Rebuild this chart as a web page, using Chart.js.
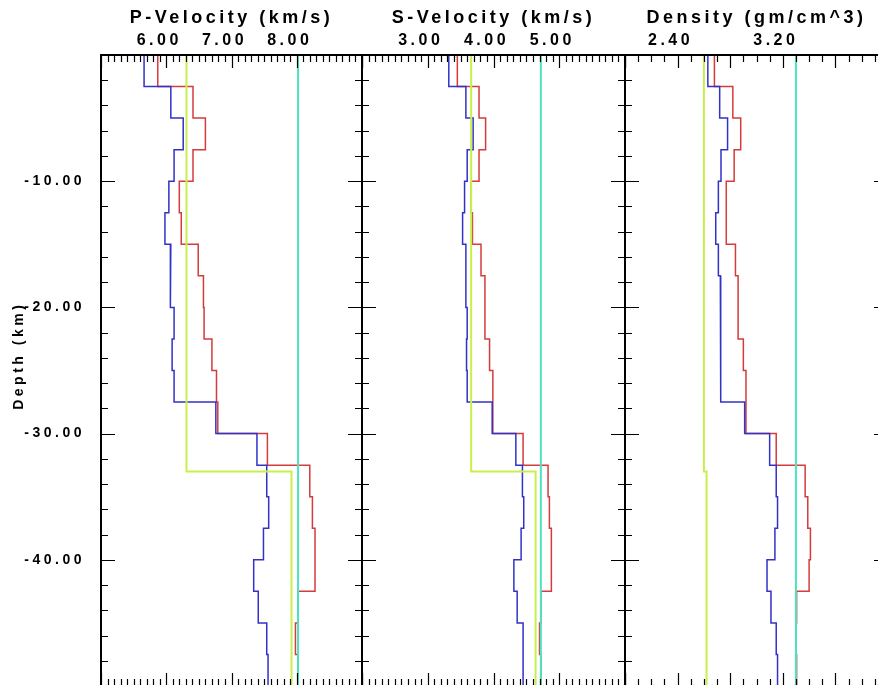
<!DOCTYPE html>
<html>
<head>
<meta charset="utf-8">
<script src="https://cdn.jsdelivr.net/npm/chart.js@4"></script>
<style>
  html, body { margin: 0; padding: 0; background: #fff; overflow: hidden; }
  #wrap { position: relative; width: 878px; height: 685px; overflow: hidden; }
  #wrap canvas { position: absolute; left: 0; top: 0; }
</style>
</head>
<body>
<div id="wrap">
  <canvas id="cP" width="900" height="690"></canvas>
  <canvas id="cS" width="900" height="690"></canvas>
  <canvas id="cD" width="900" height="690"></canvas>
</div>
<script>
// layer boundaries (km), 20 layers of 2.5 km
const layerDepths = [0, -2.5, -5, -7.5, -10, -12.5, -15, -17.5, -20, -22.5, -25,
  -27.5, -30, -32.5, -35, -37.5, -40, -42.5, -45, -47.5, -50];
const refDepths = [0, -33, -50];
const lineDepths = [0, -50];

// P velocity (km/s)
const pBlue = [5.66, 6.07, 6.26, 6.12, 6.04, 5.98, 6.07, 6.06, 6.12, 6.09,
  6.12, 6.76, 7.39, 7.54, 7.57, 7.49, 7.34, 7.41, 7.54, 7.56];
const pRed = [5.87, 6.41, 6.60, 6.41, 6.20, 6.23, 6.49, 6.57, 6.58, 6.70,
  6.77, 6.79, 7.55, 8.20, 8.24, 8.28, 8.28, 8.02, 7.98, 8.02];
const pRef = [6.31, 7.92];
const pLine = [8.02];

// S velocity (km/s)
const sBlue = [3.32, 3.58, 3.69, 3.60, 3.56, 3.53, 3.58, 3.58, 3.60, 3.59,
  3.60, 3.98, 4.34, 4.44, 4.46, 4.42, 4.31, 4.36, 4.45, 4.45];
const sRed = [3.45, 3.78, 3.88, 3.78, 3.66, 3.68, 3.81, 3.87, 3.87, 3.94,
  3.99, 3.99, 4.45, 4.83, 4.85, 4.88, 4.88, 4.72, 4.70, 4.72];
const sRef = [3.66, 4.64];
const sLine = [4.72];

// density (gm/cm^3)
const dBlue = [2.63, 2.72, 2.78, 2.73, 2.71, 2.69, 2.71, 2.725, 2.73, 2.725,
  2.73, 2.91, 3.10, 3.15, 3.16, 3.14, 3.08, 3.11, 3.15, 3.16];
const dRed = [2.68, 2.82, 2.88, 2.83, 2.77, 2.77, 2.84, 2.86, 2.86, 2.90,
  2.92, 2.92, 3.15, 3.37, 3.39, 3.41, 3.40, 3.305, 3.30, 3.305];
const dRef = [2.60, 2.62];
const dLine = [3.30];

// tick labels
const pTickValues = [6, 7, 8];
const pTickLabels = ['6.00', '7.00', '8.00'];
const sTickValues = [3, 4, 5];
const sTickLabels = ['3.00', '4.00', '5.00'];
const dTickValues = [2.4, 3.2];
const dTickLabels = ['2.40', '3.20'];
const yTickValues = [-10, -20, -30, -40];
const yTickLabels = ['-10.00', '-20.00', '-30.00', '-40.00'];

const FONT = '"Liberation Sans", Arial, Helvetica, sans-serif';

function stepPoints(values, depths) {
  const pts = [];
  values.forEach((v, i) => {
    pts.push({x: v, y: depths[i]});
    pts.push({x: v, y: depths[i + 1]});
  });
  return pts;
}

function pickLabel(values, labels) {
  return v => {
    const i = values.findIndex(t => Math.abs(t - v) < 1e-6);
    return i >= 0 ? labels[i] : '';
  };
}

function isMajor(v, step) {
  const r = v / step;
  return Math.abs(r - Math.round(r)) < 1e-6;
}

// frame + inward tick marks on all four sides
const framePlugin = {
  id: 'frame',
  beforeDraw(chart) {
    chart.ctx.letterSpacing = '3.5px';
  },
  afterDatasetsDraw(chart, args, opts) {
    const {ctx, chartArea: a} = chart;
    const x = chart.scales.x, y = chart.scales.y;
    ctx.save();
    ctx.strokeStyle = '#000';
    ctx.lineWidth = 1.2;
    ctx.beginPath();
    x.ticks.forEach(t => {
      const px = Math.round(x.getPixelForValue(t.value)) + 0.5;
      const len = isMajor(t.value, opts.xMajor) ? 13 : 7;
      ctx.moveTo(px, a.top); ctx.lineTo(px, a.top + len);
      ctx.moveTo(px, a.bottom); ctx.lineTo(px, a.bottom - len);
    });
    y.ticks.forEach(t => {
      const py = Math.round(y.getPixelForValue(t.value)) + 0.5;
      const len = isMajor(t.value, 10) ? 14 : 7;
      ctx.moveTo(a.left, py); ctx.lineTo(a.left + len, py);
      ctx.moveTo(a.right, py); ctx.lineTo(a.right - len, py);
    });
    ctx.stroke();
    ctx.lineWidth = 2;
    ctx.strokeRect(a.left, a.top, a.right - a.left, a.bottom - a.top);
    ctx.restore();
  }
};

function makePanel(id, cfg) {
  new Chart(document.getElementById(id), {
    type: 'line',
    data: {
      datasets: [
        {data: stepPoints(cfg.line, lineDepths), borderColor: '#4ee3c0', borderWidth: 2},
        {data: stepPoints(cfg.ref, refDepths), borderColor: '#c8f04c', borderWidth: 2},
        {data: stepPoints(cfg.blue, layerDepths), borderColor: '#3232c8', borderWidth: 1.5},
        {data: stepPoints(cfg.red, layerDepths), borderColor: '#d43c3c', borderWidth: 1.5}
      ]
    },
    options: {
      responsive: false,
      animation: false,
      layout: {padding: cfg.padding},
      elements: {point: {radius: 0}, line: {tension: 0}},
      plugins: {legend: {display: false}, tooltip: {enabled: false}, frame: {xMajor: cfg.xMajor}},
      scales: {
        x: {
          type: 'linear',
          position: 'top',
          min: cfg.min,
          max: cfg.max,
          afterFit: s => {
            s.height = 55;
            s.paddingLeft = 0; s.paddingRight = 0;
          },
          grid: {display: false, drawTicks: false},
          border: {display: false},
          ticks: {
            stepSize: 0.1,
            autoSkip: false,
            maxRotation: 0,
            minRotation: 0,
            padding: 5,
            labelOffset: -7,
            color: '#000',
            font: {family: FONT, size: 16, weight: 'bold'},
            callback: pickLabel(cfg.tickValues, cfg.tickLabels)
          },
          title: {
            display: true,
            text: cfg.title,
            color: '#000',
            font: {family: FONT, size: 18, weight: 'bold'},
            padding: {top: 7, bottom: 0}
          }
        },
        y: {
          type: 'linear',
          min: -50,
          max: 0,
          afterFit: s => {
            s.width = cfg.yAxis ? 101 : 0;
            s.paddingTop = 0; s.paddingBottom = 0;
          },
          grid: {display: false, drawTicks: false},
          border: {display: false},
          ticks: {
            stepSize: 2,
            autoSkip: false,
            padding: 16,
            color: '#000',
            font: {family: FONT, size: 14, weight: 'bold'},
            callback: cfg.yAxis ? pickLabel(yTickValues, yTickLabels) : () => ''
          },
          title: {
            display: cfg.yAxis,
            text: '    Depth (km)',
            color: '#000',
            font: {family: FONT, size: 14, weight: 'bold'},
            padding: {top: 11, bottom: 0}
          }
        }
      }
    },
    plugins: [framePlugin]
  });
}

makePanel('cP', {
  title: 'P-Velocity (km/s)', min: 5, max: 9, xMajor: 1,
  tickValues: pTickValues, tickLabels: pTickLabels,
  blue: pBlue, red: pRed, ref: pRef, line: pLine,
  yAxis: true, padding: {left: 0, right: 538, top: 0, bottom: 4}
});
makePanel('cS', {
  title: 'S-Velocity (km/s)', min: 2, max: 6, xMajor: 1,
  tickValues: sTickValues, tickLabels: sTickLabels,
  blue: sBlue, red: sRed, ref: sRef, line: sLine,
  yAxis: false, padding: {left: 362, right: 275, top: 0, bottom: 4}
});
makePanel('cD', {
  title: 'Density (gm/cm^3)', min: 2, max: 4, xMajor: 0.4,
  tickValues: dTickValues, tickLabels: dTickLabels,
  blue: dBlue, red: dRed, ref: dRef, line: dLine,
  yAxis: false, padding: {left: 625, right: 12, top: 0, bottom: 4}
});
</script>
</body>
</html>
